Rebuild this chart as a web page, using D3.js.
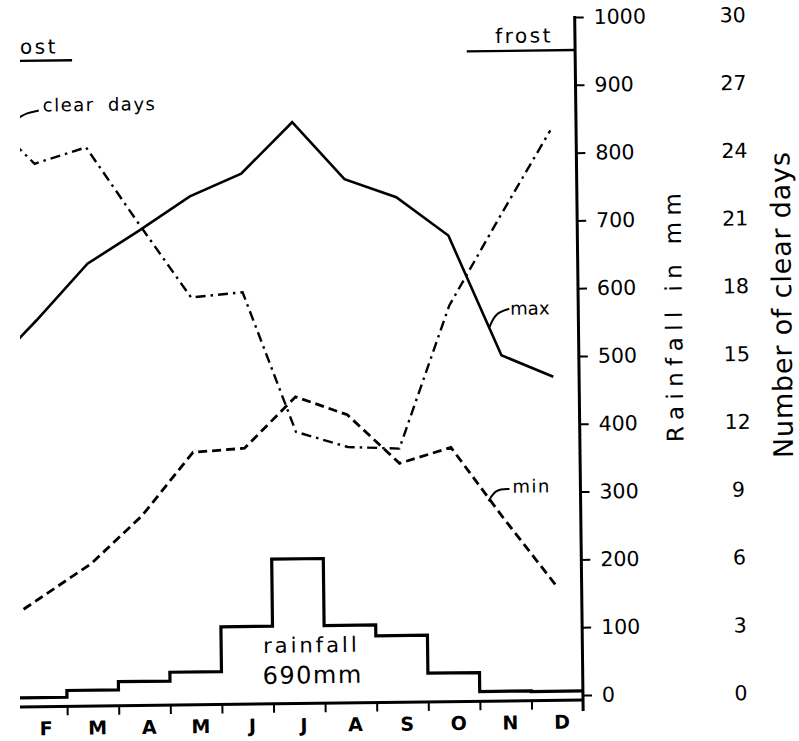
<!DOCTYPE html>
<html><head><meta charset="utf-8">
<script src="https://cdn.jsdelivr.net/npm/d3@7"></script>
<style>
html,body{margin:0;padding:0;background:#fff;}
svg{display:block;}
text{font-family:"DejaVu Sans",sans-serif;fill:#000;}
</style></head><body>
<svg id="chart" width="799" height="741"></svg>
<script>
// ---- data ----
const months = ["J","F","M","A","M","J","J","A","S","O","N","D"];
const rainfall = [6, 6, 16, 28, 41, 107, 206, 107, 91, 35, 7, 6];          // mm per month
const maxTemp = [19.4, 22.5, 25.8, 27.7, 29.7, 31.0, 34.0, 30.6, 29.5, 27.2, 20.1, 18.8]; // deg C
const minTemp = [4.1, 6.1, 8.1, 10.9, 14.6, 14.8, 17.8, 16.7, 13.8, 14.7, 10.5, 6.5];     // deg C
const clearDays = [26.1, 23.8, 24.5, 21.1, 17.8, 18.0, 11.8, 11.1, 11.0, 17.3, 21.2, 25.0];
const rainTicks = [0, 100, 200, 300, 400, 500, 600, 700, 800, 900, 1000];
const dayTicks = [0, 3, 6, 9, 12, 15, 18, 21, 24, 27, 30];
const frostPeriods = [[0, 2.25], [9.9, 12]];   // in months from 1 Jan
const frostLabels = ["ost", "frost"];          // left one is cut by the picture's edge
const rainTotalLabel = ["rainfall", "690mm"];

// ---- layout ----
const svg = d3.select("#chart");
svg.append("defs").append("clipPath").attr("id","clip")
  .append("rect").attr("x",20).attr("y",0).attr("width",779).attr("height",741);
const root = svg.append("g").attr("transform","rotate(-0.7,583,697)");
const g = svg.append("g").attr("clip-path","url(#clip)")
  .append("g").attr("transform","rotate(-0.7,583,697)");

const x = d3.scaleLinear().domain([0,12]).range([-36.2, 583]);
const yRain = d3.scaleLinear().domain([0,1000]).range([695,17]);
const yDays = d3.scaleLinear().domain([0,30]).range([695,17]);
const yTemp = d3.scaleLinear().domain([0,40]).range([695,17]);
const axisY = 700;

// rainfall axis
const ra = root.append("g").attr("transform","translate(583,0)")
  .call(d3.axisRight(yRain).tickValues(rainTicks).tickSize(9).tickPadding(10).tickFormat(d3.format("d")));
ra.select(".domain").remove();
ra.selectAll("line").attr("stroke","#000").attr("stroke-width",2);
ra.selectAll("text").attr("font-size","20.5px").attr("font-family","DejaVu Sans");
root.append("line").attr("x1",583).attr("x2",583).attr("y1",yRain(1000)-1).attr("y2",711)
  .attr("stroke","#000").attr("stroke-width",3);

// clear days axis (labels only)
const da = root.append("g").attr("transform","translate(741,0)")
  .call(d3.axisRight(yDays).tickValues(dayTicks).tickSize(0).tickPadding(0));
da.select(".domain").remove();
da.selectAll("text").attr("font-size","20.5px").attr("font-family","DejaVu Sans")
  .attr("text-anchor","middle").attr("x",0);

// x axis
g.append("line").attr("x1",x(0)).attr("x2",583).attr("y1",axisY).attr("y2",axisY)
  .attr("stroke","#000").attr("stroke-width",3);
const xt = g.append("g").attr("transform",`translate(0,${axisY})`)
  .call(d3.axisBottom(x).tickValues(d3.range(1,12)).tickSize(9).tickFormat(""));
xt.select(".domain").remove();
xt.selectAll("line").attr("stroke","#000").attr("stroke-width",2);
const visibleCenters = d3.range(12).map(i=>i+0.5).filter(c=>x(c) > 20);
const xl = root.append("g").attr("transform",`translate(4,${axisY})`)
  .call(d3.axisBottom(x).tickValues(visibleCenters).tickSize(0).tickPadding(15)
    .tickFormat(d=>months[Math.floor(d)]));
xl.select(".domain").remove();
xl.selectAll("text").attr("font-size","19px").attr("font-weight","bold").attr("font-family","DejaVu Sans");

// rainfall steps
const stepPts = rainfall.map((v,i)=>[x(i), yRain(v)]);
stepPts.push([x(12), yRain(rainfall[11])]);
g.append("path").attr("d", d3.line().curve(d3.curveStepAfter)(stepPts))
  .attr("fill","none").attr("stroke","#000").attr("stroke-width",3.2);

// lines
const tl = (scale)=> d3.line().x((d,i)=>x(i+0.5)).y(d=>scale(d));
g.append("path").attr("d", tl(yTemp)(maxTemp))
  .attr("fill","none").attr("stroke","#000").attr("stroke-width",2.6);
g.append("path").attr("d", tl(yTemp)(minTemp))
  .attr("fill","none").attr("stroke","#000").attr("stroke-width",2.8)
  .attr("stroke-dasharray","9,5");
g.append("path").attr("d", tl(yDays)(clearDays))
  .attr("fill","none").attr("stroke","#000").attr("stroke-width",2.4)
  .attr("stroke-dasharray","10,5,2.5,5");

// frost bars
const frostY = [54, 50];
frostPeriods.forEach((p,i)=>{
  g.append("line").attr("x1",x(p[0])).attr("x2",x(p[1])).attr("y1",frostY[i]).attr("y2",frostY[i])
    .attr("stroke","#000").attr("stroke-width",2.4);
});
root.append("text").attr("x",x(frostPeriods[0][1])-14).attr("y",47).attr("text-anchor","end")
  .attr("font-size","20px").attr("letter-spacing","2.5px").text(frostLabels[0]);
root.append("text").attr("x",x(frostPeriods[1][1])-22).attr("y",42).attr("text-anchor","end")
  .attr("font-size","20px").attr("letter-spacing","2.5px").text(frostLabels[1]);

// labels
const leader = (pts)=> g.append("path").attr("d", d3.line().curve(d3.curveBasis)(pts))
  .attr("fill","none").attr("stroke","#000").attr("stroke-width",2);
root.append("text").attr("x",50).attr("y",105).attr("font-size","18px")
  .attr("letter-spacing","1.5px").attr("word-spacing","6px").text("clear days");
leader([[24,112],[34,106],[46,104]]);
root.append("text").attr("x",515).attr("y",314).attr("font-size","18px").text("max");
leader([[494,326],[500,312],[514,308]]);
root.append("text").attr("x",515).attr("y",492).attr("font-size","18px").attr("letter-spacing","1.5px").text("min");
leader([[491,500],[498,488],[512,488]]);

root.append("text").attr("x",312).attr("y",649).attr("text-anchor","middle")
  .attr("font-size","21px").attr("letter-spacing","3px").text(rainTotalLabel[0]);
root.append("text").attr("x",313).attr("y",680).attr("text-anchor","middle")
  .attr("font-size","24px").attr("letter-spacing","1.5px").text(rainTotalLabel[1]);

// axis titles
root.append("text").attr("transform","translate(686.6,318.7) rotate(-90)")
  .attr("text-anchor","middle").attr("font-size","23px")
  .attr("textLength",249).attr("lengthAdjust","spacing").text("Rainfall in mm");
root.append("text").attr("transform","translate(796,307.6) rotate(-90)")
  .attr("text-anchor","middle").attr("font-size","27px")
  .attr("textLength",306).attr("lengthAdjust","spacing").text("Number of clear days");
</script>
</body></html>
